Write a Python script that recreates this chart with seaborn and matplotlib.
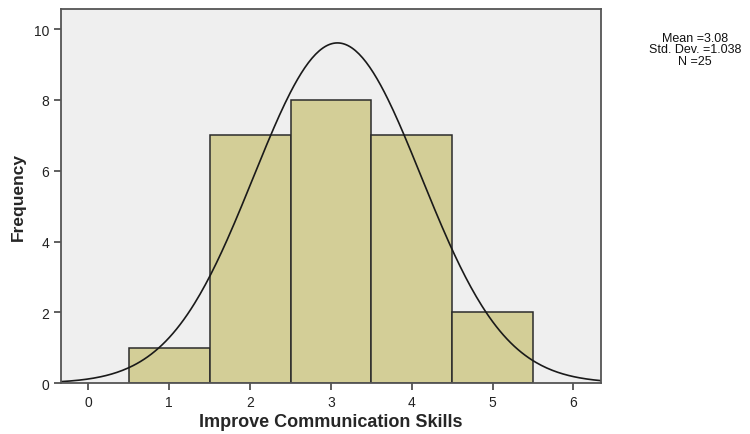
import numpy as np
import pandas as pd
import matplotlib
matplotlib.use('Agg')
import matplotlib.pyplot as plt
import seaborn as sns

# score values and their frequencies
scores = [1, 2, 3, 4, 5]
counts = [1, 7, 8, 7, 2]

df = pd.DataFrame({'score': scores, 'count': counts})

n = int(df['count'].sum())
mean = (df['score'] * df['count']).sum() / n
sd = np.sqrt(((df['score'] - mean) ** 2 * df['count']).sum() / (n - 1))

sns.set_style('white')
plt.rcParams['font.family'] = ['Liberation Sans', 'DejaVu Sans']

fig = plt.figure(figsize=(7.5, 4.35), dpi=100)
ax = fig.add_axes([0.0813, 0.117, 0.72, 0.860])
ax.set_facecolor('#efefef')

sns.histplot(data=df, x='score', weights='count', binwidth=1, binrange=(0.5, 5.5),
             color='#d3ce97', edgecolor='#2b2b2b', linewidth=1.1, alpha=1, ax=ax)

# fitted normal curve scaled to counts
xs = np.linspace(-0.34, 6.34, 300)
ys = n * 1.0 * np.exp(-0.5 * ((xs - mean) / sd) ** 2) / (sd * np.sqrt(2 * np.pi))
ax.plot(xs, ys, color='#1a1a1a', linewidth=1.2)

ax.set_xlim(-0.34, 6.34)
ax.set_ylim(0, 10.57)
ax.set_xticks(range(0, 7))
ax.set_yticks(range(0, 11, 2))

for s in ax.spines.values():
    s.set_color('#555555')
    s.set_linewidth(1.3)
ax.tick_params(axis='both', direction='out', length=5, width=1.2, color='#444444',
               labelsize=10, labelcolor='#222222', left=True, bottom=True)

ax.set_xlabel('Improve Communication Skills', fontsize=13, fontweight='bold', labelpad=3)
ax.set_ylabel('Frequency', fontsize=12.5, fontweight='bold', labelpad=6)

fig.text(0.927, 0.925, f'Mean ={mean:.2f}\nStd. Dev. ={sd:.3f}\nN ={n}',
         ha='center', va='top', fontsize=9, linespacing=0.95, color='#111111')

plt.savefig('out.png', dpi=100)
